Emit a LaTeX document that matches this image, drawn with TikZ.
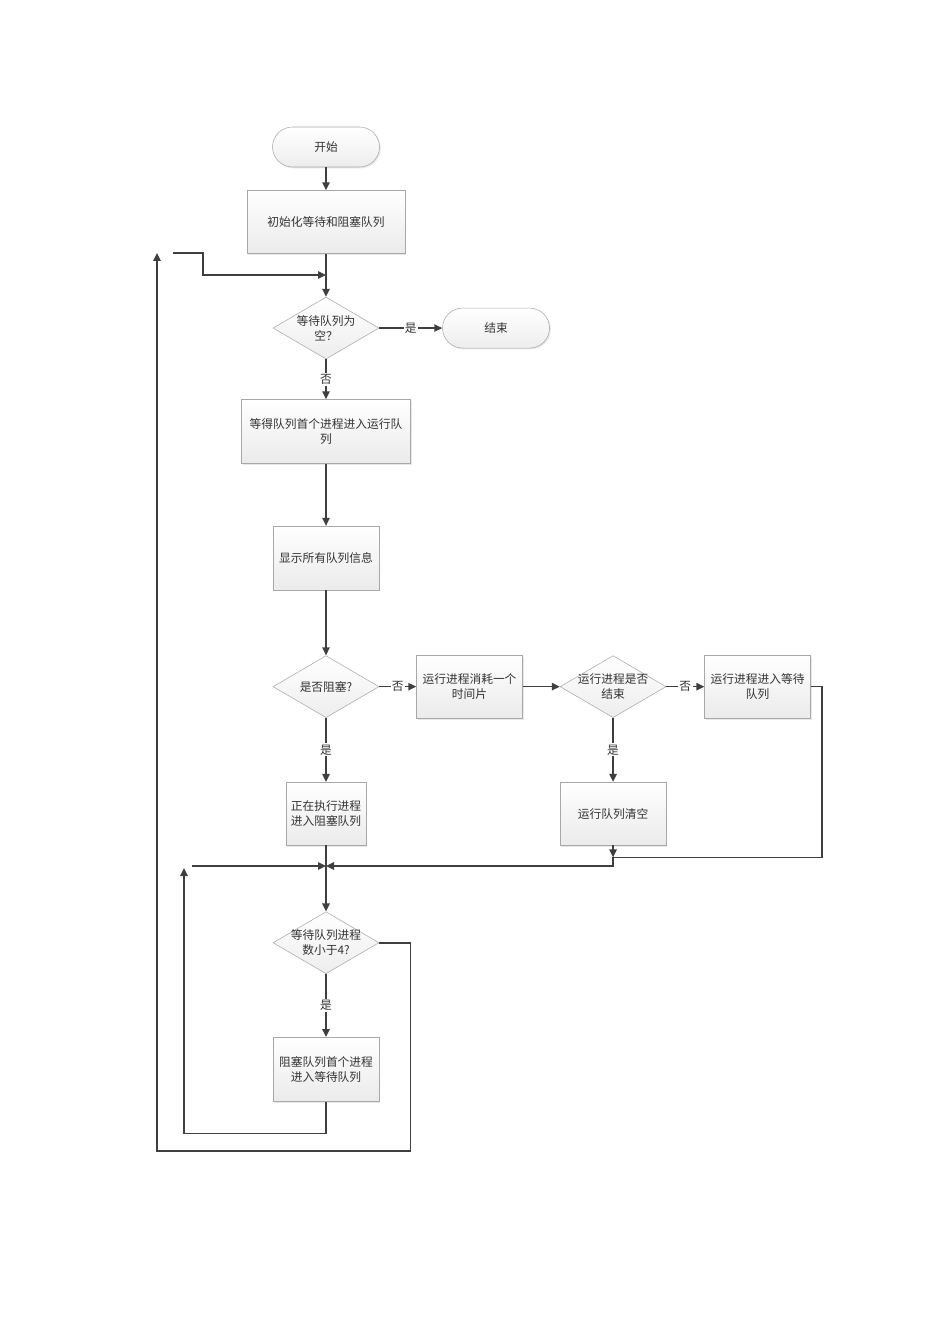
\documentclass[tikz,border=0pt]{standalone}
\usepackage{fontspec}
\newfontfamily\cjk{Noto Sans CJK SC}
\usepackage{xcolor}
\usetikzlibrary{shapes,arrows.meta,positioning,shadows,calc}
\definecolor{linegray}{HTML}{3F3F3F}
\definecolor{boxline}{HTML}{A8A8A8}
\definecolor{txtgray}{HTML}{333333}

\begin{document}
\begin{tikzpicture}[
  x=0.75pt,y=-0.75pt,
  every node/.style={font=\cjk\fontsize{8.8}{11.2}\selectfont,align=center,text=txtgray},
  term/.style={rectangle,rounded corners=15pt,draw=boxline,top color=white,bottom color=gray!14,minimum width=80.25pt,minimum height=30pt,drop shadow={opacity=0.18,shadow xshift=1pt,shadow yshift=-1pt}},
  proc/.style={rectangle,draw=boxline,top color=white,bottom color=gray!16,minimum width=79.5pt,minimum height=47.25pt,drop shadow={opacity=0.18,shadow xshift=1pt,shadow yshift=-1pt}},
  decis/.style={diamond,aspect=1.71,inner sep=-1.5pt,draw=boxline,top color=white,bottom color=gray!14,minimum width=79.5pt,minimum height=46.5pt},
  lbl/.style={fill=white,inner sep=1pt},
  line/.style={draw=linegray,line width=1.15pt},
  arrow/.style={line,-{Triangle[length=6pt,width=5.5pt]}}
]
\fill[white] (0,0) rectangle (950,1344);

\node[term] (start) at (326,147) {开始};
\node[proc,minimum width=118.5pt,below=17.25pt of start] (init) {初始化等待和阻塞队列};
\node[decis,below=32.25pt of init] (qempty) {等待队列为\\空？};
\node[term,right=47.25pt of qempty] (end) {结束};
\node[proc,minimum width=126.75pt,minimum height=48pt,below=30pt of qempty] (toRun) {等得队列首个进程进入运行队\\列};
\node[proc,minimum height=48pt,below=46.5pt of toRun] (show) {显示所有队列信息};
\node[decis,below=48.75pt of show] (blocked) {是否阻塞?};
\node[proc,right=27.75pt of blocked] (slice) {运行进程消耗一个\\时间片};
\node[decis,right=27.75pt of slice] (finish) {运行进程是否\\结束};
\node[proc,right=28.5pt of finish] (toWait) {运行进程进入等待\\队列};
\node[proc,minimum width=60pt,below=48pt of blocked] (toBlock) {正在执行进程\\进入阻塞队列};
\node[proc,below=48pt of finish] (clear) {运行队列清空};
\node[decis,below=49.5pt of toBlock] (lessFour) {等待队列进程\\数小于4?};
\node[proc,minimum height=48pt,below=47.25pt of lessFour] (blkToWait) {阻塞队列首个进程\\进入等待队列};

\coordinate (topIn) at (326,275);
\coordinate (outL) at (173,253);
\coordinate (outUp) at (157,253);
\coordinate (merge) at (326,866);
\coordinate (inL) at (192,866);
\coordinate (inUp) at (184,868);
\coordinate (cEnd) at ($(clear.south)+(0,12)$);

\draw[arrow] (start) -- (init);
\draw[arrow] (init) -- (qempty);
\draw[arrow] (qempty) -- node[lbl]{是} (end);
\draw[arrow] (qempty) -- node[lbl]{否} (toRun);
\draw[arrow] (toRun) -- (show);
\draw[arrow] (show) -- (blocked);
\draw[arrow] (blocked) -- node[lbl]{否} (slice);
\draw[arrow] (slice) -- (finish);
\draw[arrow] (finish) -- node[lbl]{否} (toWait);
\draw[arrow] (blocked) -- node[lbl]{是} (toBlock);
\draw[arrow] (finish) -- node[lbl]{是} (clear);
\draw[arrow] (clear) -- (cEnd);
\draw[line] (toWait.east) -- ++(11,0) |- (cEnd);
\draw[arrow] (cEnd) |- (merge);
\draw[line] (toBlock) -- (merge);
\draw[arrow] (inL) -- (merge);
\draw[arrow] (merge) -- (lessFour);
\draw[arrow] (lessFour) -- node[lbl]{是} (blkToWait);

% loops back
\draw[arrow] (blkToWait.south) -- ++(0,32) -| (inUp);
\draw[arrow] (lessFour.east) -- ++(31,0) -- ++(0,208) -| (outUp);
\draw[arrow] (outL) -- ++(30,0) |- (topIn);
\end{tikzpicture}
\end{document}
